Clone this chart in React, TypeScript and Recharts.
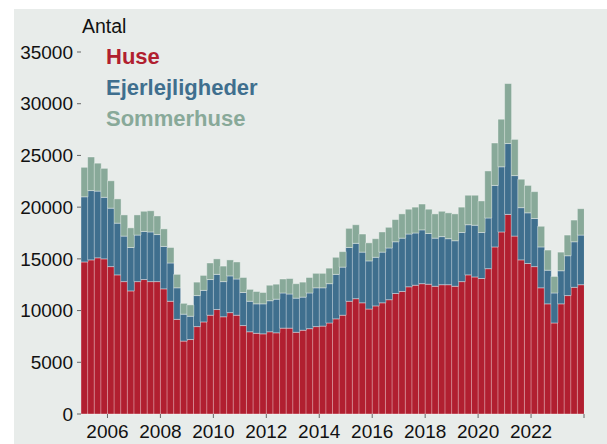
import { Bar, BarChart, XAxis, YAxis } from "recharts";

// kvartaler 2005K1 - 2023K4
const years = [2005, 2006, 2007, 2008, 2009, 2010, 2011, 2012, 2013, 2014, 2015, 2016, 2017, 2018, 2019, 2020, 2021, 2022, 2023];

const huse = [
  14700, 14900, 15100, 15000, 14250, 13450, 12800, 11900, 12800, 13000, 12800, 12800,
  12100, 10900, 9150, 7050, 7200, 8450, 8900, 9550, 10100, 9400, 9800, 9550,
  8550, 7950, 7800, 7750, 7950, 7850, 8300, 8300, 7900, 8100, 8250, 8450,
  8500, 8800, 9200, 9550, 10900, 11150, 10750, 10150, 10450, 10750, 11050, 11650,
  11850, 12300, 12450, 12600, 12550, 12350, 12500, 12500, 12350, 12800, 13450, 13250,
  13100, 14050, 16150, 17600, 19300, 17200, 14900, 14550, 14250, 12200, 10650, 8800,
  10650, 11450, 12250, 12500,
];

const ejerlejligheder = [
  6300, 6700, 6450, 5950, 5650, 5000, 4400, 4200, 4500, 4650, 4800, 4550,
  4100, 3700, 3050, 2600, 2250, 3000, 3050, 3450, 3400, 3400, 3550, 3500,
  3200, 2950, 2850, 2900, 3000, 3250, 3400, 3300, 3300, 3200, 3450, 3750,
  3700, 3800, 4300, 4650, 5200, 5350, 4900, 4650, 4700, 4900, 5000, 5000,
  5150, 5100, 5050, 5200, 4900, 4650, 4650, 4450, 4400, 4750, 4850, 5000,
  4450, 4900, 5950, 6300, 6850, 5850, 5050, 4900, 4650, 3950, 3250, 2900,
  3200, 3850, 4400, 4800,
];

const sommerhuse = [
  2850, 3250, 2700, 2800, 2650, 2350, 2050, 1900, 1950, 1950, 2050, 1800,
  1700, 1500, 1300, 1050, 1100, 1300, 1450, 1600, 1500, 1500, 1550, 1650,
  1450, 1150, 1200, 1100, 1500, 1450, 1350, 1500, 1400, 1450, 1500, 1400,
  1400, 1500, 1650, 1500, 1850, 1800, 1750, 1750, 1800, 1950, 2000, 2150,
  2350, 2400, 2500, 2500, 2350, 2350, 2450, 2500, 2600, 2450, 2850, 2900,
  3050, 4550, 4100, 4600, 5800, 3500, 2750, 2650, 2600, 2000, 1950, 1600,
  1800, 2000, 2100, 2550,
];

const yearTicks = [2006, 2008, 2010, 2012, 2014, 2016, 2018, 2020, 2022, 2024];
const yTicks = [0, 5000, 10000, 15000, 20000, 25000, 30000, 35000];

// hvert kvartal placeres midt i sin periode på en tidsakse
const data = years.flatMap((y, yi) =>
  [0, 1, 2, 3].map((q) => {
    const i = yi * 4 + q;
    return {
      t: y + (q + 0.5) / 4,
      huse: huse[i],
      ejerlejligheder: ejerlejligheder[i],
      sommerhuse: sommerhuse[i],
    };
  })
);

const RED = "#b11f30";
const BLUE = "#3f6f8e";
const GREEN = "#88a999";
const BG = "#e8ecea";
const FONT = "'Liberation Sans', Arial, Helvetica, sans-serif";

const barStroke = { stroke: "#ffffff", strokeOpacity: 0.45, strokeWidth: 0.8 };

export default function App() {
  return (
    <div style={{ position: "absolute", left: 0, top: 0, width: 607, height: 444, background: "#fff", overflow: "hidden" }}>
      <div style={{ position: "absolute", left: 14, top: 9, right: 0, bottom: 0, background: BG }} />
      <div style={{ position: "absolute", left: 0, top: 0 }}>
        <BarChart
          width={607}
          height={444}
          data={data}
          margin={{ top: 52, right: 23, bottom: 0, left: 21 }}
          barCategoryGap={0}
        >
          <XAxis
            dataKey="t"
            type="number"
            domain={[2005, 2024]}
            allowDataOverflow
            ticks={yearTicks}
            tickFormatter={(v) => (v === 2024 ? "" : String(v))}
            axisLine={false}
            tickSize={4}
            tickMargin={7}
            height={30}
            tickLine={{ stroke: "#666" }}
            tick={{ fill: "#111", fontSize: 19, fontFamily: FONT }}
          />
          <YAxis
            domain={[0, 35000]}
            ticks={yTicks}
            width={60}
            axisLine={false}
            tickSize={4}
            tickMargin={4}
            tickLine={{ stroke: "#666" }}
            tick={{ fill: "#111", fontSize: 19, fontFamily: FONT }}
          />
          <Bar dataKey="huse" stackId="a" fill={RED} {...barStroke} isAnimationActive={false} />
          <Bar dataKey="ejerlejligheder" stackId="a" fill={BLUE} {...barStroke} isAnimationActive={false} />
          <Bar dataKey="sommerhuse" stackId="a" fill={GREEN} {...barStroke} isAnimationActive={false} />
        </BarChart>
      </div>
      <svg width={607} height={444} style={{ position: "absolute", left: 0, top: 0, pointerEvents: "none" }}>
        <text x={82} y={33} fontSize={19.5} fontFamily={FONT} fill="#111">Antal</text>
        <text x={106} y={64} fontSize={22} fontWeight="bold" fontFamily={FONT} fill={RED}>Huse</text>
        <text x={106} y={95} fontSize={22} fontWeight="bold" fontFamily={FONT} fill={BLUE}>Ejerlejligheder</text>
        <text x={106} y={126} fontSize={22} fontWeight="bold" fontFamily={FONT} fill={GREEN}>Sommerhuse</text>
      </svg>
    </div>
  );
}
